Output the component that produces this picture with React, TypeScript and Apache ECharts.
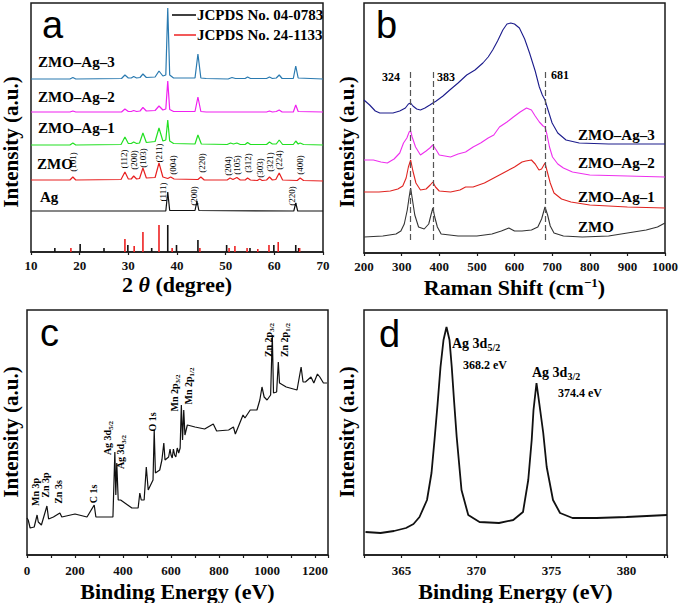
import React, { useEffect, useRef } from "react";
import * as echarts from "echarts";

const SERIF = '"Liberation Serif", "Times New Roman", Times, serif';
const SANS = '"Liberation Sans", Arial, Helvetica, sans-serif';

// ---------- Panel a: XRD (2θ, intensity a.u. with stacking offsets) ----------
const xrdZmoAg3: number[][] = [[10,173],[18.0,173],[18.6,174.5],[19.2,173],[28.6,173.5],[29.3,177],[30,174],[30.6,174],[31.1,175.5],[31.7,174],[32.4,174.5],[33.0,178],[33.7,174.5],[35.5,175],[36.3,181],[37.1,176],[37.7,177],[38.1,244],[38.5,177],[39.3,174],[43.7,174],[44.3,198],[44.9,174],[46,173.5],[50.5,173],[51.3,174.5],[52,173.5],[54,173.5],[54.5,175],[55.1,173.5],[58.4,173.5],[59,175],[59.6,173.5],[60.4,174],[61,177],[61.6,173.5],[63.9,173.5],[64.4,186],[64.9,174],[70,173]];
const xrdZmoAg2: number[][] = [[10,140],[18.0,140],[18.6,141],[19.2,140],[28.6,140],[29.3,143],[30,140.5],[30.6,140.5],[31.1,141.5],[31.7,140.5],[32.4,141],[33.0,144.5],[33.7,141],[35.5,141.5],[36.3,146],[37.1,142],[37.7,143],[38.1,171],[38.5,142.5],[39.3,140.5],[43.7,140.5],[44.3,155],[44.9,140.5],[46,140],[58.4,140],[59,141],[59.6,140],[60.4,140.5],[61,142],[61.6,140],[63.9,140],[64.4,147],[64.9,140.5],[70,140]];
const xrdZmoAg1: number[][] = [[10,107],[18.0,107],[18.6,109],[19.2,107],[28.5,107.5],[29.3,115],[30.0,108.5],[30.6,108.5],[31.1,110],[31.7,108.5],[32.3,109],[33.0,119],[33.7,109.5],[35.5,110.5],[36.3,124],[37.1,111],[37.7,112],[38.1,132],[38.5,111],[39.3,108.5],[43.7,108],[44.3,117],[45.0,108],[50.3,107.5],[51.0,109],[51.6,108],[52.3,109],[53.0,107.5],[54.0,107.5],[54.5,109.5],[55.1,107.5],[58.4,107.5],[59.0,110],[59.6,108],[60.4,108],[61.0,112],[61.7,107.5],[63.9,107.5],[64.4,111],[64.9,108],[65.3,109],[66,107.5],[70,107]];
const xrdZmo: number[][] = [[10,72],[18.0,72],[18.6,75],[19.2,72],[28.5,72.5],[29.3,80],[30.0,73],[30.6,73],[31.1,76],[31.7,73],[32.3,73.5],[33.0,84],[33.7,74],[35.5,74.5],[36.3,89],[37.1,75],[38.1,73.5],[38.7,75],[39.4,73],[44.3,72.5],[44.9,75],[45.6,72],[50.3,72],[50.9,74],[51.5,72.5],[52.3,74.5],[53,72],[54,72],[54.5,74],[55.1,72],[56.5,71.5],[57,73],[57.5,71.5],[58.4,72],[59.0,75],[59.6,72],[60.3,72.5],[61.0,79],[61.7,72],[64.7,71.5],[65.3,74],[66,71.5],[70,71]];
const xrdAg: number[][] = [[10,41],[37.7,41],[38.1,60],[38.5,41.5],[43.7,41.5],[44.1,51],[44.5,41.5],[64.0,41],[64.4,49],[64.8,41],[70,41]];
const jcpds040783: number[][] = [[14.9,4],[20.1,8],[25.0,4],[29.9,7],[34.8,4],[38.1,27],[39.9,7],[44.3,12],[50.2,7],[55.0,4],[59.9,7],[64.4,7],[65.0,4]];
const jcpds241133: number[][] = [[18.2,4],[29.3,13],[31.2,6],[33.0,20],[36.3,27],[39.0,4],[44.7,4],[50.7,4],[51.9,6],[54.4,4],[56.6,3],[58.9,7],[60.8,10],[65.2,4]];

// ---------- Panel b: Raman ----------
const ramanZmoAg3: number[][] = [[200,153],[215,148],[230,142],[242,140],[260,140],[277,140],[295,142],[310,145],[318,149],[324,150],[330,147],[340,144],[350,143],[362,145],[375,148],[383,150],[392,152],[410,157],[428,163],[450,170],[473,178],[495,183],[516,190],[530,196],[542,203],[555,212],[569,223],[580,229],[590,230],[600,229],[613,225],[627,214],[640,200],[655,182],[666,166],[674,158],[681,153],[690,142],[700,130],[715,120],[737,113],[772,110],[850,109],[950,109],[1000,109]];
const ramanZmoAg2: number[][] = [[200,93],[225,93],[245,91],[262,90],[280,94],[295,100],[305,110],[314,115],[320,121],[324,122],[328,116],[337,106],[350,98],[365,102],[375,105],[383,108],[392,103],[400,98],[430,96],[450,99],[470,101],[490,106],[510,110],[530,115],[545,118],[560,126],[580,131],[597,136],[615,141],[632,145],[645,143],[655,137],[666,131],[676,127],[681,126],[686,119],[693,106],[701,96],[715,89],[730,85],[754,81],[800,78],[900,77],[1000,76]];
const ramanZmoAg1: number[][] = [[200,61],[240,61],[270,62],[290,64],[303,67],[312,75],[318,86],[324,93],[330,82],[338,70],[350,63],[365,64],[376,68],[383,71],[390,66],[400,62],[430,61],[455,63],[470,66],[490,66],[520,70],[545,75],[570,80],[600,86],[620,91],[630,92],[645,93],[655,89],[665,83],[672,84],[681,90],[688,80],[695,70],[705,60],[725,54],[750,51],[800,48],[900,46],[1000,45]];
const ramanZmo: number[][] = [[200,16],[250,17],[285,19],[298,22],[307,29],[315,43],[320,56],[324,65],[328,55],[335,38],[345,26],[360,24],[372,29],[378,38],[383,45],[388,36],[395,26],[405,19],[450,17],[500,17],[540,19],[565,22],[585,25],[600,22],[620,22],[645,23],[662,26],[672,34],[681,46],[688,38],[695,27],[705,20],[730,17],[780,16],[850,17],[900,20],[950,23],[980,26],[1000,30]];
const ramanPeaks: number[] = [324, 383, 681];
const ramanDashRange: number[] = [13, 183];

// ---------- Panel c: XPS survey ----------
const xpsSurvey: number[][] = [[0,37],[5,35],[13,27],[30,28],[42,40],[47,33],[60,30],[83,49],[90,36],[110,38],[137,42],[145,38],[200,41],[250,38],[280,50],[287,38],[358,38],[366,103],[370,60],[374,92],[380,55],[390,55],[437,47],[463,47],[470,62],[476,55],[488,55],[497,88],[505,65],[525,75],[530,125],[535,82],[553,85],[562,95],[570,112],[575,95],[590,98],[596,106],[600,100],[605,97],[610,106],[615,100],[620,98],[626,107],[632,102],[638,107],[643,150],[648,115],[653,145],[658,120],[668,130],[700,128],[740,126],[776,131],[790,124],[840,125],[860,128],[868,121],[900,140],[908,137],[930,145],[958,145],[970,155],[979,168],[988,158],[1000,155],[1015,160],[1022,220],[1027,162],[1040,163],[1047,193],[1052,172],[1080,168],[1110,166],[1125,165],[1142,188],[1150,173],[1160,173],[1183,178],[1195,172],[1210,181],[1220,178],[1235,172],[1250,172]];

// ---------- Panel d: Ag 3d ----------
const xpsAg3d: number[][] = [[362.6,23],[363.6,22],[364.5,24],[365.3,27],[365.8,31],[366.2,38],[366.7,55],[367.0,82],[367.2,115],[367.4,150],[367.6,188],[367.8,215],[368.0,228],[368.2,215],[368.35,188],[368.5,155],[368.68,118],[369.0,65],[369.45,40],[370.2,33],[371.5,32],[372.45,35],[373.1,43],[373.45,75],[373.68,115],[373.8,145],[374.0,172],[374.2,150],[374.45,122],[374.68,88],[375.1,55],[375.57,42],[376.4,37],[378,37],[380,38],[382.7,40]];

// ---------- helpers ----------
function txt(x: number, y: number, text: string, size: number, o: any = {}) {
  const align = o.align || "left";
  return {
    type: "text",
    x,
    y,
    rotation: o.rot || 0,
    z: 100,
    style: {
      text,
      fontFamily: o.family || SERIF,
      fontSize: size,
      fontWeight: o.weight || "bold",
      fill: o.color || "#000",
      lineHeight: o.lineHeight,
      align,
      textAlign: align,
      verticalAlign: "middle",
      textVerticalAlign: "middle",
      rich: o.rich,
    },
  };
}

function subTxt(x: number, y: number, main: string, sub: string, size: number, o: any = {}) {
  const ss = Math.round(size * 0.68);
  const base = { fontFamily: SERIF, fontWeight: "bold", fill: "#000" };
  return txt(x, y, `{m|${main}}{s|${sub}}`, size, {
    ...o,
    rich: {
      m: { ...base, fontSize: size, lineHeight: size + 2, verticalAlign: "top" },
      s: { ...base, fontSize: ss, lineHeight: ss, verticalAlign: "bottom" },
    },
  });
}

const ROT = Math.PI / 2;

function xAxis(gridIndex: number, min: number, max: number, interval: number, name: string, nameGap: number, margin: number, fmt?: (v: number) => string, rich?: any) {
  return {
    type: "value",
    gridIndex,
    min,
    max,
    interval,
    name,
    nameLocation: "middle",
    nameGap,
    nameTextStyle: { fontFamily: SERIF, fontWeight: "bold", fontSize: 22, lineHeight: 22, color: "#000", rich },
    axisLine: { show: true, lineStyle: { color: "#1a1a1a", width: 1.5 } },
    axisTick: { show: true, inside: false, length: 3, lineStyle: { color: "#1a1a1a", width: 1.2 } },
    axisLabel: {
      fontFamily: SERIF,
      fontWeight: "bold",
      fontSize: 13,
      lineHeight: 13,
      color: "#111",
      margin,
      formatter: fmt || ((v: number) => String(v)),
    },
    splitLine: { show: false },
  };
}

function yAxis(gridIndex: number, max: number) {
  return { type: "value", gridIndex, min: 0, max, show: false, splitLine: { show: false } };
}

function line(idx: number, data: number[][], color: string, width: number, name: string, extra: any = {}) {
  return {
    type: "line",
    name,
    xAxisIndex: idx,
    yAxisIndex: idx,
    data,
    symbol: "none",
    showSymbol: false,
    smooth: false,
    clip: true,
    lineStyle: { color, width },
    itemStyle: { color },
    ...extra,
  };
}

const gridBase = { show: true, borderColor: "#1a1a1a", borderWidth: 1.5, backgroundColor: "transparent" };

const millerZmo: [string, number, number][] = [
  ["(101)", 73, 162], ["(112)", 124, 159], ["(200)", 133.5, 160], ["(103)", 143, 158], ["(211)", 159, 153],
  ["(004)", 173, 165], ["(220)", 202, 163], ["(204)", 227.5, 166], ["(105)", 237, 165], ["(312)", 248, 163],
  ["(303)", 260, 168], ["(321)", 269.5, 162], ["(224)", 279, 160], ["(400)", 300, 165],
];
const millerAg: [string, number, number][] = [["(111)", 163, 192], ["(200)", 194, 196], ["(220)", 292, 196]];

export default function App() {
  const ref = useRef<HTMLDivElement>(null);
  useEffect(() => {
    document.body.style.margin = "0";
    const chart = echarts.init(ref.current!, null, { renderer: "svg" });

    const graphic: any[] = [];
    // panel letters
    graphic.push(txt(42, 25, "a", 38, { family: SANS, weight: "normal" }));
    graphic.push(txt(376, 25, "b", 38, { family: SANS, weight: "normal" }));
    graphic.push(txt(40, 333, "c", 38, { family: SANS, weight: "normal" }));
    graphic.push(txt(379, 334, "d", 38, { family: SANS, weight: "normal" }));
    // y names
    for (const [x, y] of [[11, 142], [347, 142], [11, 432], [347, 432]]) {
      graphic.push(txt(x, y, "Intensity (a.u.)", 21, { rot: ROT, align: "center", lineHeight: 21 }));
    }
    // panel a
    graphic.push(txt(38, 62, "ZMO–Ag–3", 15));
    graphic.push(txt(38, 97, "ZMO–Ag–2", 15));
    graphic.push(txt(38, 128, "ZMO–Ag–1", 15));
    graphic.push(txt(37, 164, "ZMO", 15));
    graphic.push(txt(40, 197, "Ag", 15));
    graphic.push({ type: "line", z: 100, shape: { x1: 172, y1: 15, x2: 196, y2: 15 }, style: { stroke: "#000", lineWidth: 1.5 } });
    graphic.push({ type: "line", z: 100, shape: { x1: 174, y1: 35, x2: 196, y2: 35 }, style: { stroke: "#ee2222", lineWidth: 1.5 } });
    graphic.push(txt(197, 15, "JCPDS No. 04-0783", 15));
    graphic.push(txt(197, 35, "JCPDS No. 24-1133", 15));
    for (const [t, x, y] of [...millerZmo, ...millerAg]) {
      graphic.push(txt(x, y, t, 9, { rot: ROT, align: "center", weight: "normal", lineHeight: 8 }));
    }
    // panel b
    graphic.push(txt(391, 77, "324", 12, { align: "center" }));
    graphic.push(txt(446, 77, "383", 12, { align: "center" }));
    graphic.push(txt(560, 75, "681", 12, { align: "center" }));
    graphic.push(txt(578, 135, "ZMO–Ag–3", 15));
    graphic.push(txt(578, 163, "ZMO–Ag–2", 15));
    graphic.push(txt(578, 197, "ZMO–Ag–1", 15));
    graphic.push(txt(578, 227, "ZMO", 15));
    // panel c
    const cl = { rot: ROT, align: "center", lineHeight: 9 };
    graphic.push(txt(35, 492, "Mn 3p", 10, cl));
    graphic.push(txt(45, 485, "Zn 3p", 10, cl));
    graphic.push(txt(58, 492, "Zn 3s", 10, cl));
    graphic.push(txt(93, 494, "C 1s", 10, cl));
    graphic.push(subTxt(108, 438, "Ag 3d", "5/2", 10, { rot: ROT, align: "center" }));
    graphic.push(subTxt(121, 452, "Ag 3d", "3/2", 10, { rot: ROT, align: "center" }));
    graphic.push(txt(152, 422, "O 1s", 10, cl));
    graphic.push(subTxt(175, 393, "Mn 2p", "3/2", 10, { rot: ROT, align: "center" }));
    graphic.push(subTxt(189, 386, "Mn 2p", "1/2", 10, { rot: ROT, align: "center" }));
    graphic.push(subTxt(269, 340, "Zn 2p", "3/2", 10, { rot: ROT, align: "center" }));
    graphic.push(subTxt(285, 340, "Zn 2p", "1/2", 10, { rot: ROT, align: "center" }));
    // panel d
    graphic.push(subTxt(452, 344, "Ag 3d", "5/2", 14));
    graphic.push(txt(463, 365, "368.2 eV", 12));
    graphic.push(subTxt(532, 373, "Ag 3d", "3/2", 14));
    graphic.push(txt(558, 393, "374.4 eV", 12));

    const option: any = {
      animation: false,
      backgroundColor: "#fff",
      grid: [
        { ...gridBase, left: 31, top: 3, width: 292, height: 249 },
        { ...gridBase, left: 364, top: 3, width: 301, height: 250 },
        { ...gridBase, left: 27, top: 310, width: 301, height: 245 },
        { ...gridBase, left: 364, top: 310, width: 303, height: 245 },
      ],
      xAxis: [
        xAxis(0, 10, 70, 10, "{m|2 }{i|θ}{m| (degree)}", 21, 7, undefined, {
          m: { fontFamily: SERIF, fontWeight: "bold", fontSize: 22, lineHeight: 22, color: "#000" },
          i: { fontFamily: SERIF, fontWeight: "bold", fontStyle: "italic", fontSize: 22, lineHeight: 22, color: "#000" },
        }),
        xAxis(1, 200, 1000, 100, "{m|Raman Shift (cm}{s|−1}{m|)}", 23, 7, undefined, {
          m: { fontFamily: SERIF, fontWeight: "bold", fontSize: 22, lineHeight: 22, verticalAlign: "bottom", color: "#000" },
          s: { fontFamily: SERIF, fontWeight: "bold", fontSize: 13, lineHeight: 13, verticalAlign: "top", color: "#000" },
        }),
        xAxis(2, 0, 1254, 100, "Binding Energy (eV)", 25, 9, (v: number) => (v % 200 === 0 ? String(v) : "")),
        xAxis(3, 362.5, 382.7, 2.5, "Binding Energy (eV)", 25, 9, (v: number) =>
          Math.abs(v % 5) < 1e-6 ? String(Math.round(v)) : ""
        ),
      ],
      yAxis: [yAxis(0, 249), yAxis(1, 250), yAxis(2, 245), yAxis(3, 245)],
      series: [
        line(0, xrdZmoAg3, "#2a7ab0", 1.2, "ZMO–Ag–3"),
        line(0, xrdZmoAg2, "#f020f0", 1.2, "ZMO–Ag–2"),
        line(0, xrdZmoAg1, "#22e022", 1.2, "ZMO–Ag–1"),
        line(0, xrdZmo, "#e82020", 1.2, "ZMO"),
        line(0, xrdAg, "#111111", 1.2, "Ag"),
        {
          type: "bar", name: "JCPDS No. 04-0783", xAxisIndex: 0, yAxisIndex: 0,
          data: jcpds040783, barWidth: 1.6, barGap: "-100%", itemStyle: { color: "#111" },
        },
        {
          type: "bar", name: "JCPDS No. 24-1133", xAxisIndex: 0, yAxisIndex: 0,
          data: jcpds241133, barWidth: 1.6, barGap: "-100%", itemStyle: { color: "#ee2222" },
        },
        line(1, ramanZmoAg3, "#1c1c8c", 1.1, "ZMO–Ag–3 Raman"),
        line(1, ramanZmoAg2, "#ee30ee", 1.1, "ZMO–Ag–2 Raman"),
        line(1, ramanZmoAg1, "#e02420", 1.1, "ZMO–Ag–1 Raman"),
        line(1, ramanZmo, "#333333", 1.1, "ZMO Raman", {
          markLine: {
            silent: true,
            symbol: ["none", "none"],
            label: { show: false },
            lineStyle: { type: [6, 3], color: "#555", width: 1.2 },
            data: ramanPeaks.map((p) => [{ coord: [p, ramanDashRange[0]] }, { coord: [p, ramanDashRange[1]] }]),
          },
        }),
        line(2, xpsSurvey, "#111111", 1.2, "Survey"),
        line(3, xpsAg3d, "#111111", 1.8, "Ag 3d"),
      ],
      graphic,
    };
    chart.setOption(option);
    return () => chart.dispose();
  }, []);
  return <div ref={ref} style={{ position: "absolute", left: 0, top: 0, width: 685, height: 603, background: "#fff" }} />;
}
